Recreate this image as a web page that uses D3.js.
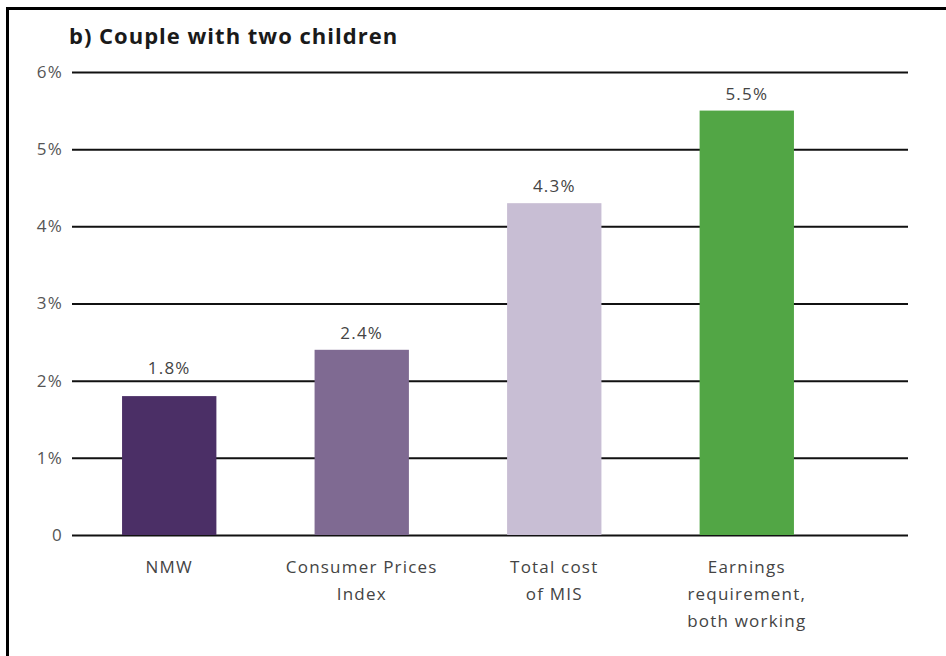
<!DOCTYPE html>
<html>
<head>
<meta charset="UTF-8">
<title>Couple with two children</title>
<script src="https://cdn.jsdelivr.net/npm/d3@7"></script>
<style>
  body { margin: 0; background: #fff; }
  svg { display: block; font-family: "Open Sans", sans-serif; }
</style>
</head>
<body>
<div id="chart"></div>
<script>
const categories = [
  ["NMW"],
  ["Consumer Prices", "Index"],
  ["Total cost", "of MIS"],
  ["Earnings", "requirement,", "both working"]
];
const values = [1.8, 2.4, 4.3, 5.5];
const valueLabels = ["1.8%", "2.4%", "4.3%", "5.5%"];
const barColors = ["#4b2f66", "#7f6a92", "#c8bed4", "#52a645"];
const yTicks = [0, 1, 2, 3, 4, 5, 6];
const yTickLabels = ["0", "1%", "2%", "3%", "4%", "5%", "6%"];

const w = 946, h = 656;
const plotLeft = 72, plotRight = 908, plotTop = 72, plotBase = 535;
const labelFont = 17;
const labelSpacing = 1.2;

const svg = d3.select("#chart").append("svg")
  .attr("width", w)
  .attr("height", h);

// frame
svg.append("path")
  .attr("d", `M7.5,${h} V8.5 H${w}`)
  .attr("fill", "none")
  .attr("stroke", "#000")
  .attr("stroke-width", 3);

svg.append("text")
  .attr("x", 69)
  .attr("y", 44)
  .attr("font-size", 22)
  .attr("font-weight", "bold")
  .attr("letter-spacing", 1)
  .attr("fill", "#1a1a1a")
  .text("b) Couple with two children");

const x = d3.scaleBand()
  .domain(d3.range(categories.length))
  .range([plotLeft, 844])
  .paddingInner(0.51)
  .paddingOuter(0.26);

const y = d3.scaleLinear()
  .domain([0, 6])
  .range([plotBase, plotTop]);

// gridlines + tick labels
const yAxis = d3.axisLeft(y)
  .tickValues(yTicks)
  .tickFormat((d, i) => yTickLabels[i])
  .tickSize(-(plotRight - plotLeft))
  .tickPadding(9);

const ga = svg.append("g")
  .attr("transform", `translate(${plotLeft},0)`)
  .call(yAxis);
ga.select(".domain").remove();
ga.selectAll(".tick line")
  .attr("stroke", "#111")
  .attr("stroke-width", 2);
ga.selectAll(".tick text")
  .attr("font-size", labelFont)
  .attr("letter-spacing", labelSpacing)
  .attr("fill", "#555")
  .attr("font-family", "'Open Sans', sans-serif");

// bars
svg.append("g").selectAll("rect")
  .data(values)
  .join("rect")
  .attr("x", (d, i) => x(i))
  .attr("y", d => y(d))
  .attr("width", x.bandwidth())
  .attr("height", d => plotBase - y(d))
  .attr("fill", (d, i) => barColors[i]);

// value labels, lifted above a gridline when they would sit on it
svg.append("g").selectAll("text")
  .data(values)
  .join("text")
  .attr("x", (d, i) => x(i) + x.bandwidth() / 2)
  .attr("y", d => {
    let ly = y(d) - 11;
    const hit = yTicks.find(t => y(t) > ly - 13 && y(t) < ly + 2);
    if (hit !== undefined) ly = y(hit) - 7;
    return ly;
  })
  .attr("text-anchor", "middle")
  .attr("font-size", labelFont)
  .attr("letter-spacing", labelSpacing)
  .attr("fill", "#444")
  .text((d, i) => valueLabels[i]);

// category labels
const cat = svg.append("g").selectAll("text")
  .data(categories)
  .join("text")
  .attr("x", (d, i) => x(i) + x.bandwidth() / 2)
  .attr("y", 573)
  .attr("text-anchor", "middle")
  .attr("font-size", labelFont)
  .attr("letter-spacing", labelSpacing)
  .attr("fill", "#444");
cat.selectAll("tspan")
  .data(d => d)
  .join("tspan")
  .attr("x", function () { return this.parentNode.getAttribute("x"); })
  .attr("dy", (d, i) => i === 0 ? 0 : 27)
  .text(d => d);
</script>
</body>
</html>
